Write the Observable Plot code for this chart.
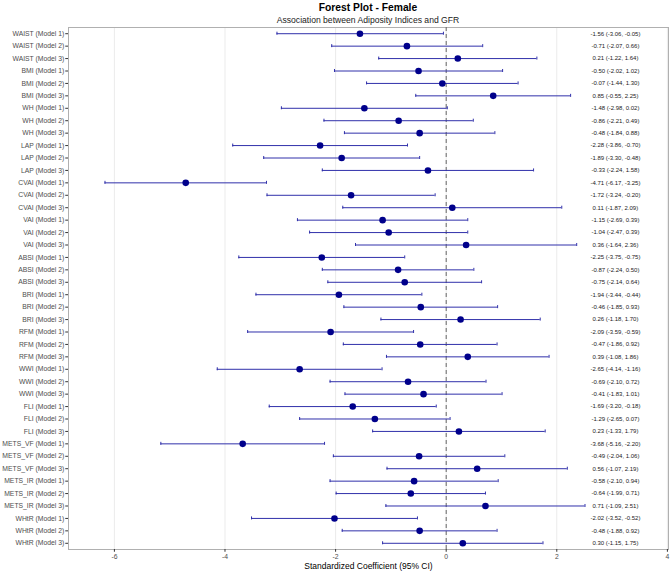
<!DOCTYPE html>
<html>
<head>
<meta charset="utf-8">
<script src="https://cdn.jsdelivr.net/npm/d3@7"></script>
<script src="https://cdn.jsdelivr.net/npm/@observablehq/plot@0.6"></script>
<style>
  body { margin: 0; background: #fff; }
  #wrap { position: relative; width: 671px; height: 571px; font-family: "Liberation Sans", Arial, sans-serif; }
  .head { position: absolute; left: 68px; width: 600px; text-align: center; color: #000; white-space: nowrap; }
  #title { top: 2px; font-size: 10.3px; font-weight: bold; }
  #subtitle { top: 15px; font-size: 8.6px; color: #1a1a1a; }
  #wrap svg [aria-label="x-axis label"] text { font-size: 8.5px; fill: #000; }
</style>
</head>
<body>
<div id="wrap">
  <div class="head" id="title">Forest Plot - Female</div>
  <div class="head" id="subtitle">Association between Adiposity Indices and GFR</div>
</div>
<script>
// Adiposity indices and adjustment models
const indices = ["WAIST", "BMI", "WH", "LAP", "CVAI", "VAI", "ABSI", "BRI", "RFM", "WWI", "FLI", "METS_VF", "METS_IR", "WHtR"];
const models = ["Model 1", "Model 2", "Model 3"];

// Standardized coefficients with 95% CI, in index order, three models each
const estimate = [
  -1.56, -0.71, 0.21,
  -0.50, -0.07, 0.85,
  -1.48, -0.86, -0.48,
  -2.28, -1.89, -0.33,
  -4.71, -1.72, 0.11,
  -1.15, -1.04, 0.36,
  -2.25, -0.87, -0.75,
  -1.94, -0.46, 0.26,
  -2.09, -0.47, 0.39,
  -2.65, -0.69, -0.41,
  -1.69, -1.29, 0.23,
  -3.68, -0.49, 0.56,
  -0.58, -0.64, 0.71,
  -2.02, -0.48, 0.30
];
const lower = [
  -3.06, -2.07, -1.22,
  -2.02, -1.44, -0.55,
  -2.98, -2.21, -1.84,
  -3.86, -3.30, -2.24,
  -6.17, -3.24, -1.87,
  -2.69, -2.47, -1.64,
  -3.75, -2.24, -2.14,
  -3.44, -1.85, -1.18,
  -3.59, -1.86, -1.08,
  -4.14, -2.10, -1.83,
  -3.20, -2.65, -1.33,
  -5.16, -2.04, -1.07,
  -2.10, -1.99, -1.09,
  -3.52, -1.88, -1.15
];
const upper = [
  -0.05, 0.66, 1.64,
  1.02, 1.30, 2.25,
  0.02, 0.49, 0.88,
  -0.70, -0.48, 1.58,
  -3.25, -0.20, 2.09,
  0.39, 0.39, 2.36,
  -0.75, 0.50, 0.64,
  -0.44, 0.93, 1.70,
  -0.59, 0.92, 1.86,
  -1.16, 0.72, 1.01,
  -0.18, 0.07, 1.79,
  -2.20, 1.06, 2.19,
  0.94, 0.71, 2.51,
  -0.52, 0.92, 1.75
];
const xTicks = [-6, -4, -2, 0, 2, 4];

const fmt = d3.format(".2f");
const hy = s => s.replace(/\u2212/g, "-");
const rows = [];
indices.forEach((ind, i) => {
  models.forEach((m, j) => {
    const k = i * 3 + j;
    rows.push({
      label: `${ind} (${m})`,
      estimate: estimate[k],
      lower: lower[k],
      upper: upper[k],
      text: hy(`${fmt(estimate[k])} (${fmt(lower[k])}, ${fmt(upper[k])})`)
    });
  });
});

const barColor = "#3030aa";
const dotColor = "#00008b";
const labelX = 3.06; // column of coefficient labels, in data units

const chart = Plot.plot({
  width: 671,
  height: 571,
  marginTop: 27,
  marginBottom: 22,
  marginLeft: 68,
  marginRight: 3,
  style: { fontFamily: "Liberation Sans, Arial, sans-serif", fontSize: "6.8px", color: "#4d4d4d", background: "transparent" },
  x: { domain: [-6.83, 4.02] },
  y: { domain: rows.map(d => d.label), padding: 0, round: false },
  marks: [
    Plot.gridX(xTicks, { stroke: "#ebebeb", strokeOpacity: 1, strokeWidth: 1 }),
    Plot.frame({ stroke: "#b0b0b0", strokeWidth: 1 }),
    Plot.ruleX([0], { stroke: "#666", strokeDasharray: "4,3", strokeWidth: 1 }),
    Plot.ruleY(rows, { y: "label", x1: "lower", x2: "upper", stroke: barColor, strokeWidth: 1 }),
    Plot.tickX(rows, { x: "lower", y: "label", stroke: barColor, insetTop: 4.7, insetBottom: 4.7 }),
    Plot.tickX(rows, { x: "upper", y: "label", stroke: barColor, insetTop: 4.7, insetBottom: 4.7 }),
    Plot.dot(rows, { x: "estimate", y: "label", r: 3.3, fill: dotColor, stroke: null }),
    Plot.text(rows, { x: () => labelX, y: "label", text: "text", fontSize: 6, fill: "#1a1a1a", textAnchor: "middle" }),
    Plot.axisY({ tickSize: 2.75, tickPadding: 1.5, label: null, stroke: "#333", fill: "#4d4d4d" }),
    Plot.axisX({
      ticks: xTicks, tickSize: 2.75, tickPadding: 1.5, tickFormat: d => String(d),
      label: "Standardized Coefficient (95% CI)", labelAnchor: "center", labelArrow: "none", labelOffset: 19,
      stroke: "#333", fill: "#4d4d4d"
    })
  ]
});
document.getElementById("wrap").prepend(chart);
chart.style.position = "absolute";
chart.style.left = "0";
chart.style.top = "0";
</script>
</body>
</html>
